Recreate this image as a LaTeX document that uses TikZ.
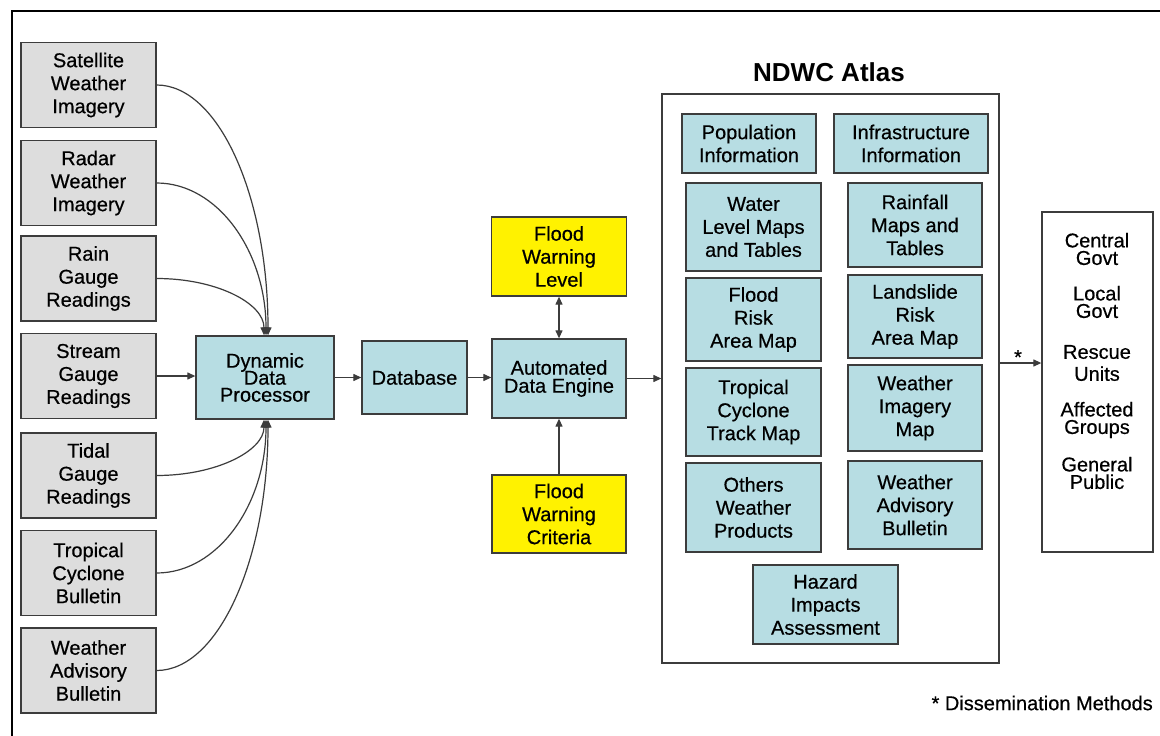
\documentclass[tikz,border=0pt]{standalone}
\usepackage{fontspec}
\setmainfont{Liberation Sans}[FakeBold=0.5]
\newfontfamily\titlefont{Liberation Sans}[Scale=1]
\usetikzlibrary{arrows.meta}
\definecolor{graybox}{HTML}{DDDDDD}
\definecolor{bluebox}{HTML}{B7DDE3}
\definecolor{edgecol}{HTML}{3C3C3C}
\newcommand\mylsk{\lineskiplimit-100pt\relax}
\begin{document}
\mylsk
\begin{tikzpicture}[x=1pt,y=-1pt,
  bx/.style={draw=edgecol, line width=1.3pt, align=center, inner sep=0pt,
    font=\fontsize{20}{23}\selectfont\mylsk},
  src/.style={bx, fill=graybox, minimum width=135pt, minimum height=85pt},
  blu/.style={bx, fill=bluebox},
  ylw/.style={bx, fill=yellow},
  frame/.style={draw=edgecol, line width=1.3pt, inner sep=0pt},
  conn/.style={draw=edgecol, line width=1.2pt, -{Triangle[length=8pt,width=7pt]}},
  both/.style={draw=edgecol, line width=1.2pt, {Triangle[length=8pt,width=7pt]}-{Triangle[length=8pt,width=7pt]}},
  txt/.style={align=center, inner sep=0pt, font=\fontsize{20}{17.5}\selectfont\mylsk}
]
\useasboundingbox (0,0) rectangle (1160,736);
\fill[white] (0,0) rectangle (1160,736);
\draw[line width=2.5pt] (12,740) -- (12,11) -- (1164,11);

% sources
\node[src] (sat) at (88.5,85) {Satellite\\Weather\\Imagery};
\node[src] (rad) at (88.5,183) {Radar\\Weather\\Imagery};
\node[src] (rain) at (88.5,278.5) {Rain\\Gauge\\Readings};
\node[src] (stream) at (88.5,376) {Stream\\Gauge\\Readings};
\node[src] (tidal) at (88.5,475.5) {Tidal\\Gauge\\Readings};
\node[src] (trop) at (88.5,573) {Tropical\\Cyclone\\Bulletin};
\node[src] (wab) at (88.5,670.5) {Weather\\Advisory\\Bulletin};

% processing chain
\node[blu, minimum width=138pt, minimum height=83pt, font=\fontsize{20}{17}\selectfont\mylsk] (ddp) at (265,377.5) {Dynamic\\Data\\Processor};
\node[blu, minimum width=105pt, minimum height=73pt] (db) at (414.5,377.5) {Database};
\node[blu, minimum width=134pt, minimum height=79pt, font=\fontsize{20}{18}\selectfont\mylsk] (ade) at (559,378.5) {Automated\\Data Engine};
\node[ylw, minimum width=135pt, minimum height=79pt] (fwl) at (559,256.5) {Flood\\Warning\\Level};
\node[ylw, minimum width=134pt, minimum height=78pt] (fwc) at (559,514) {Flood\\Warning\\Criteria};

% atlas
\node[frame, fill=white, minimum width=337pt, minimum height=569pt] (atlas) at (830.5,378.5) {};
\node[inner sep=0pt, font=\titlefont\fontsize{26}{30}\selectfont\bfseries] (title) at (829,72) {NDWC Atlas};
\node[blu, minimum width=134pt, minimum height=59pt] (pop) at (749,143.5) {Population\\Information};
\node[blu, minimum width=154pt, minimum height=59pt] (infra) at (911,143.5) {Infrastructure\\Information};
\node[blu, minimum width=135pt, minimum height=88pt] (water) at (753.5,227) {Water\\Level Maps\\and Tables};
\node[blu, minimum width=134pt, minimum height=84pt] (rainf) at (915,225) {Rainfall\\Maps and\\Tables};
\node[blu, minimum width=135pt, minimum height=83pt] (flood) at (753.5,319.5) {Flood\\Risk\\Area Map};
\node[blu, minimum width=134pt, minimum height=83pt] (land) at (915,316.5) {Landslide\\Risk\\Area Map};
\node[blu, minimum width=135pt, minimum height=88pt] (track) at (753.5,412) {Tropical\\Cyclone\\Track Map};
\node[blu, minimum width=134pt, minimum height=86pt] (wim) at (915,408) {Weather\\Imagery\\Map};
\node[blu, minimum width=135pt, minimum height=89pt] (oth) at (753.5,507.5) {Others\\Weather\\Products};
\node[blu, minimum width=134pt, minimum height=88pt] (wab2) at (915,505) {Weather\\Advisory\\Bulletin};
\node[blu, minimum width=145pt, minimum height=79pt] (haz) at (825.5,604.5) {Hazard\\Impacts\\Assessment};

% recipients
\node[frame, minimum width=111pt, minimum height=340pt] (rec) at (1097.5,382) {};
\node[txt] (r1) at (1097,249) {Central\\Govt};
\node[txt] (r2) at (1097,302) {Local\\Govt};
\node[txt, font=\fontsize{20}{22}\selectfont] (r3) at (1097,363) {Rescue\\Units};
\node[txt] (r4) at (1097,420) {Affected\\Groups};
\node[txt] (r5) at (1097,473) {General\\Public};

% connectors
\draw[conn] (sat.east) .. controls +(62,0) and +(0,-139) .. ([xshift=3pt]ddp.north);
\draw[conn] (rad.east) .. controls +(61,0) and +(0,-84) .. ([xshift=1pt]ddp.north);
\draw[conn] (rain.east) .. controls +(60,0) and +(0,-32) .. ([xshift=-1pt]ddp.north);
\draw[conn] (stream.east) -- (stream.east -| ddp.west);
\draw[conn] (tidal.east) .. controls +(60,0) and +(0,31) .. ([xshift=-1pt]ddp.south);
\draw[conn] (trop.east) .. controls +(61,0) and +(0,85) .. ([xshift=1pt]ddp.south);
\draw[conn] (wab.east) .. controls +(62,0) and +(0,139) .. ([xshift=3pt]ddp.south);
\draw[conn] (ddp.east) -- (ddp.east -| db.west);
\draw[conn] (db.east) -- (db.east -| ade.west);
\draw[both] (ade.north) -- (fwl.south);
\draw[conn] (fwc.north) -- (ade.south);
\draw[conn] (ade.east) -- (ade.east -| atlas.west);
\coordinate (dmy) at (1020,363);
\draw[conn] (atlas.east |- dmy) -- (rec.west |- dmy);
\node[anchor=base, inner sep=0pt, font=\fontsize{20}{20}\selectfont] (star) at (1018,364) {*};
\node[anchor=east, inner sep=0pt, font=\fontsize{20}{24}\selectfont] (dm) at (1153,703) {* Dissemination Methods};
\end{tikzpicture}
\end{document}
